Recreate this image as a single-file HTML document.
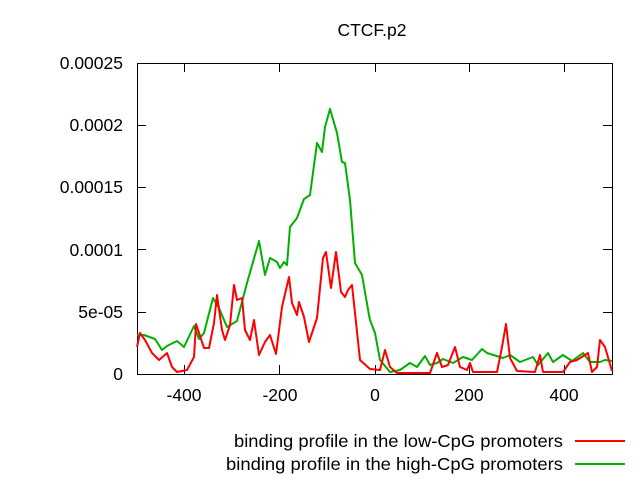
<!DOCTYPE html>
<html><head><style>body{margin:0;background:#fff}svg{display:block}text{font-family:"Liberation Sans",sans-serif;font-size:17.5px;fill:#000}</style></head><body>
<svg width="640" height="480" viewBox="0 0 640 480">
<rect width="640" height="480" fill="#fff"/>
<text x="372" y="36" text-anchor="middle">CTCF.p2</text>
<g text-anchor="end">
<text x="123" y="69">0.00025</text>
<text x="123" y="131">0.0002</text>
<text x="123" y="193">0.00015</text>
<text x="123" y="256">0.0001</text>
<text x="123" y="318">5e-05</text>
<text x="123" y="380">0</text>
</g>
<g text-anchor="middle">
<text x="184" y="401">-400</text>
<text x="280" y="401">-200</text>
<text x="375" y="401">0</text>
<text x="469" y="401">200</text>
<text x="564" y="401">400</text>
</g>
<g stroke="#000" stroke-width="1" fill="none">
<rect x="137.5" y="63.5" width="475" height="311"/>
<path d="M137 125.5h9M612 125.5h-9M137 187.5h9M612 187.5h-9M137 249.5h9M612 249.5h-9M137 312.5h9M612 312.5h-9M184.5 374v-9M184.5 63v9M279.5 374v-9M279.5 63v9M375.5 374v-9M375.5 63v9M469.5 374v-9M469.5 63v9M564.5 374v-9M564.5 63v9"/>
</g>
<g fill="none" stroke-width="2" stroke-linejoin="round">
<polyline stroke="#00b000" points="137,335 144,335 155,339 162,350 167,346 177,341 184,347 194,326 199,339 204,333 213,298 219,308 227,327 237,321 247,283 259,241 265,275 270,258 277,262 280,268 284,262 287,265 290,227 297,218 304,199 310,195 317,143 322,152 325,127 330,109 337,133 342,162 345,163 350,200 355,263 362,275 369,315 370,320 375,333 380,360 390,372 400,370 410,363 417,367 425,356 430,365 437,363 443,359 453,363 463,357 472,360 482,349 487,353 503,358 510,355 520,362 533,357 538,365 548,353 553,362 563,355 572,361 583,353 590,362 600,362 605,360 612,361"/>
<polyline stroke="#ff0000" points="137,347 140,333 145,340 152,353 159,360 167,353 172,367 177,372 187,370 194,357 196,324 204,348 209,348 214,323 217,295 222,330 225,340 230,325 234,285 237,300 242,298 245,330 250,340 254,320 259,355 265,342 270,335 276,354 282,307 289,277 292,303 297,315 299,302 304,317 309,342 317,318 323,258 326,252 331,288 336,252 341,292 345,297 348,290 352,285 355,313 360,360 370,369 380,370 385,350 390,367 397,373 430,373 437,353 442,367 448,365 455,347 460,367 467,370 470,363 473,372 497,372 502,347 506,324 510,358 517,371 535,372 540,355 543,372 563,372 570,362 577,360 588,353 592,372 597,367 600,340 605,347 612,371"/>
</g>
<text x="563" y="447" text-anchor="end" textLength="329" lengthAdjust="spacingAndGlyphs">binding profile in the low-CpG promoters</text>
<line x1="575" y1="441" x2="625" y2="441" stroke="#ff0000" stroke-width="2"/>
<text x="563" y="470" text-anchor="end" textLength="337" lengthAdjust="spacingAndGlyphs">binding profile in the high-CpG promoters</text>
<line x1="575" y1="464" x2="625" y2="464" stroke="#00b000" stroke-width="2"/>
</svg>
</body></html>
